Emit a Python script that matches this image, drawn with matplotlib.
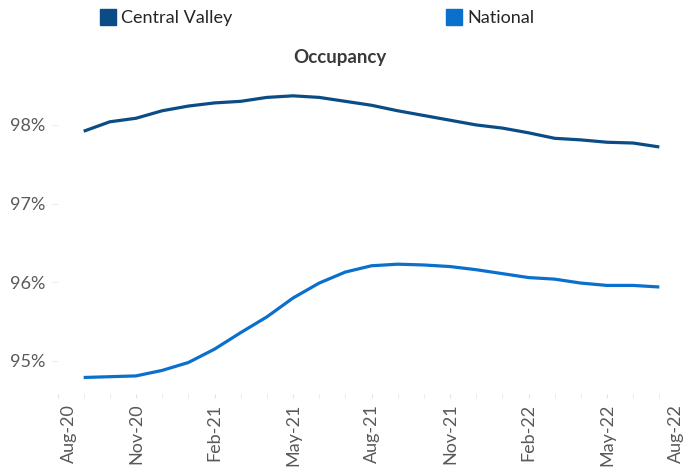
import matplotlib
matplotlib.use("Agg")
import matplotlib.pyplot as plt
import matplotlib.transforms as mtransforms
from matplotlib.lines import Line2D
import numpy as np

plt.rcParams['font.family'] = ['Lato', 'DejaVu Sans']

# monthly data, Sep-20 .. Jul-22
months = ['Sep-20', 'Oct-20', 'Nov-20', 'Dec-20', 'Jan-21', 'Feb-21', 'Mar-21',
          'Apr-21', 'May-21', 'Jun-21', 'Jul-21', 'Aug-21', 'Sep-21', 'Oct-21',
          'Nov-21', 'Dec-21', 'Jan-22', 'Feb-22', 'Mar-22', 'Apr-22', 'May-22',
          'Jun-22', 'Jul-22']
central_valley = [97.92, 98.04, 98.085, 98.18, 98.24, 98.28, 98.30, 98.35, 98.37,
                  98.35, 98.30, 98.25, 98.18, 98.12, 98.06, 98.00, 97.96, 97.90,
                  97.83, 97.81, 97.78, 97.77, 97.72]
national = [94.79, 94.80, 94.81, 94.88, 94.98, 95.15, 95.36, 95.56, 95.80, 95.99,
            96.13, 96.21, 96.23, 96.22, 96.20, 96.16, 96.11, 96.06, 96.04, 95.99,
            95.96, 95.96, 95.94]
tick_labels = ['Aug-20', 'Nov-20', 'Feb-21', 'May-21', 'Aug-21', 'Nov-21',
               'Feb-22', 'May-22', 'Aug-22']
y_ticks = [95, 96, 97, 98]

cv_color = '#0b4c86'
nat_color = '#0a70cc'
gray = '#595959'

fig = plt.figure(figsize=(6.83, 4.69), dpi=100)
ax = fig.add_axes([57.5 / 683, 75 / 469, 628 / 683, 308.4 / 469])

# x positions: month index, Aug-20 = 0
x = np.arange(1, len(months) + 1)
ax.plot(x, central_valley, color=cv_color, lw=2.3, solid_capstyle='butt')
ax.plot(x, national, color=nat_color, lw=2.3, solid_capstyle='butt')

ax.set_xlim(0, 24)
ax.set_ylim(94.58, 98.5)

ax.set_xticks(np.arange(0, 25, 3))
ax.set_xticklabels(tick_labels, rotation=90, fontsize=13, color=gray)
ax.set_xticks(np.arange(0, 25), minor=True)
ax.tick_params(axis='x', which='both', length=3, color='#e4e4e4', pad=4)

ax.set_yticks(y_ticks)
ax.set_yticklabels([f'{v}%' for v in y_ticks], fontsize=13, color=gray)
ax.tick_params(axis='y', length=5, color='#eeeeee', pad=4)

for s in ax.spines.values():
    s.set_visible(False)

# nudge the end labels inside the figure like the original
labels = ax.get_xticklabels()
labels[0].set_transform(labels[0].get_transform()
                        + mtransforms.ScaledTranslation(11 / 100, 0, fig.dpi_scale_trans))
labels[-1].set_transform(labels[-1].get_transform()
                         + mtransforms.ScaledTranslation(-10 / 100, 0, fig.dpi_scale_trans))

fig.text(340 / 683, 1 - 57 / 469, 'Occupancy', ha='center', va='center',
         fontsize=13.5, fontweight='bold', color='#3a3a3a')

handles = [Line2D([], [], ls='', marker='s', markersize=11.5, color=cv_color),
           Line2D([], [], ls='', marker='s', markersize=11.5, color=nat_color)]
fig.legend(handles, ['Central Valley', 'National'], ncol=2, loc='center left',
           bbox_to_anchor=(83 / 683, 1 - 18 / 469), frameon=False, fontsize=13,
           labelcolor='#262626', columnspacing=11.8, handletextpad=0.2,
           handlelength=1.0)

fig.savefig('out.png', dpi=100)
